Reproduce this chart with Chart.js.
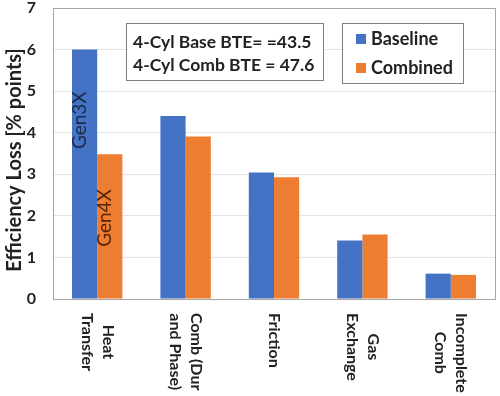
<!DOCTYPE html>
<html>
<head>
<meta charset="utf-8">
<script src="https://cdn.jsdelivr.net/npm/chart.js@4"></script>
<style>
  html, body { margin: 0; padding: 0; background: #fff; }
  #wrap { width: 500px; height: 396px; }
</style>
</head>
<body>
<div id="wrap"><canvas id="myChart"></canvas></div>
<script>
const categories = [['Heat', 'Transfer'], ['Comb (Dur', 'and Phase)'], ['Friction'], ['Gas', 'Exchange'], ['Incomplete', 'Comb']];
const baseline = [6.0, 4.4, 3.04, 1.41, 0.61];
const combined = [3.48, 3.91, 2.93, 1.55, 0.58];
const yTicks = [0, 1, 2, 3, 4, 5, 6, 7];
const yTitle = 'Efficiency Loss [% points]';
const noteLines = ['4-Cyl Base BTE= =43.5', '4-Cyl Comb BTE = 47.6'];
const barNotes = [{ dataset: 0, index: 0, text: 'Gen3X', at: 4.3 }, { dataset: 1, index: 0, text: 'Gen4X', at: 1.95 }];

const BLUE = '#4472C4';
const ORANGE = '#ED7D31';
const INK = '#222';
const FONT = 'Lato, "Liberation Sans", sans-serif';

const extras = {
  id: 'extras',
  afterDraw(chart) {
    const c = chart.ctx;
    const a = chart.chartArea;
    const x = chart.scales.x;
    const y = chart.scales.y;

    // plot area border
    c.save();
    c.strokeStyle = '#a6a6a6';
    c.lineWidth = 1;
    c.strokeRect(Math.round(a.left) + 0.5, Math.round(a.top) + 0.5, Math.round(a.right - a.left), Math.round(a.bottom - a.top));

    // y axis title
    c.fillStyle = INK;
    c.font = 'bold 20px ' + FONT;
    c.textAlign = 'center';
    c.textBaseline = 'middle';
    c.save();
    c.translate(15, 160);
    c.rotate(-Math.PI / 2);
    c.fillText(yTitle, 0, 0);
    c.restore();

    // category labels, rotated clockwise
    c.font = 'bold 16px ' + FONT;
    categories.forEach((lines, i) => {
      const px = x.getPixelForTick(i);
      const w = Math.max(...lines.map(l => c.measureText(l).width));
      const cy = a.bottom + 14 + w / 2;
      const lh = 21;
      lines.forEach((l, j) => {
        const off = ((lines.length - 1) / 2 - j) * lh;
        c.save();
        c.translate(px + off, cy);
        c.rotate(Math.PI / 2);
        c.fillText(l, 0, 0);
        c.restore();
      });
    });

    // text inside bars
    c.font = '19px ' + FONT;
    barNotes.forEach(n => {
      const bar = chart.getDatasetMeta(n.dataset).data[n.index];
      c.fillStyle = n.dataset === 0 ? '#1c2a4a' : '#5a2608';
      c.save();
      c.translate(bar.x - 5, y.getPixelForValue(n.at));
      c.rotate(-Math.PI / 2);
      c.fillText(n.text, 0, 0);
      c.restore();
    });

    // BTE note box
    c.strokeStyle = '#7f7f7f';
    c.fillStyle = '#fff';
    c.fillRect(126.5, 23.5, 197, 57);
    c.strokeRect(126.5, 23.5, 197, 57);
    c.fillStyle = INK;
    c.font = 'bold 17.5px ' + FONT;
    c.textAlign = 'left';
    noteLines.forEach((t, i) => c.fillText(t, 133, 42 + i * 23));

    // legend box
    c.fillStyle = '#fff';
    c.fillRect(342.5, 23.5, 121, 60);
    c.strokeRect(342.5, 23.5, 121, 60);
    chart.data.datasets.forEach((ds, i) => {
      const ly = 39 + i * 29;
      c.fillStyle = ds.backgroundColor;
      c.fillRect(356, ly - 5, 10, 10);
      c.fillStyle = INK;
      c.font = 'bold 18px ' + FONT;
      c.fillText(ds.label, 371, ly);
    });
    c.restore();
  }
};

new Chart(document.getElementById('myChart'), {
  type: 'bar',
  data: {
    labels: categories.map(l => l.join(' ')),
    datasets: [
      { label: 'Baseline', data: baseline, backgroundColor: BLUE, barPercentage: 1.0, categoryPercentage: 0.57 },
      { label: 'Combined', data: combined, backgroundColor: ORANGE, barPercentage: 1.0, categoryPercentage: 0.57 }
    ]
  },
  options: {
    responsive: true,
    maintainAspectRatio: false,
    animation: false,
    layout: { padding: { top: 8, right: 5, bottom: 97, left: 0 } },
    plugins: { legend: { display: false }, tooltip: { enabled: false } },
    scales: {
      x: {
        ticks: { display: false },
        grid: { display: false, drawTicks: false },
        border: { display: false }
      },
      y: {
        min: 0,
        max: 7,
        afterBuildTicks: s => { s.ticks = yTicks.map(v => ({ value: v })); },
        afterFit: s => { s.width = 53; s.paddingTop = 0; s.paddingBottom = 0; },
        ticks: { color: INK, font: { family: FONT, size: 16, weight: 'bold' }, padding: 17 },
        grid: { color: '#e3e3e3', drawTicks: false },
        border: { display: false }
      }
    }
  },
  plugins: [extras]
});
</script>
</body>
</html>
